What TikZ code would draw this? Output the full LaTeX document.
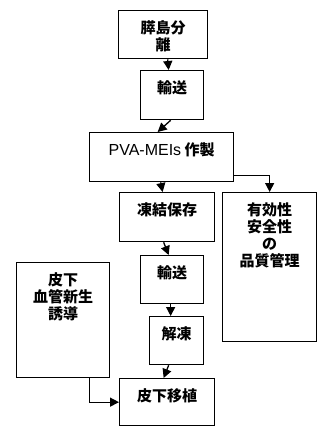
\documentclass[tikz,border=0pt]{standalone}
\usepackage{fontspec}
\setmainfont{Liberation Sans}
\newfontfamily\cjk{Noto Sans CJK JP}
\usetikzlibrary{arrows.meta,calc}
\tikzset{
  box/.style={draw, line width=1.3pt, anchor=north west, inner sep=0pt},
  lbl/.style={anchor=north, align=center, inner sep=0pt, font=\fontsize{15}{17}\selectfont\cjk\bfseries},
  arr/.style={line width=1.3pt, -{Triangle[length=9pt,width=9pt]}},
}
\newcommand\mybox[6]{%
  \node[box, minimum width=#4-#2, minimum height=#5-#3] (#1) at (#2,#3) {};
  \node[lbl] (#1t) at ([yshift=-10pt]#1.north) {#6};
}
\begin{document}
\begin{tikzpicture}[x=1pt,y=-1pt]
\useasboundingbox (0,0) rectangle (320,426);
\mybox{b1}{118}{10}{207}{58}{膵島分\\離}
\mybox{b2}{140}{70}{203}{119}{輸送}
\mybox{b3}{89}{132}{233}{181}{{\fontsize{16}{17}\fontspec{Liberation Sans}\mdseries PVA-MEIs} 作製}
\mybox{b4}{119}{192}{214}{241}{凍結保存}
\mybox{b5}{222}{192}{316}{341}{有効性\\安全性\\の\\品質管理}
\mybox{b6}{140}{255}{203}{303}{輸送}
\mybox{b7}{149}{316}{203}{364}{解凍}
\mybox{b8}{16}{262}{109}{377}{皮下\\血管新生\\誘導}
\mybox{b9}{119}{378}{214}{425}{皮下移植}
\draw[arr] ([xshift=4.5pt]b1.south) -- ([xshift=-3.5pt]b2.north);
\draw[arr] ([xshift=-1.5pt]b2.south) -- ([xshift=-4pt]b3.north);
\draw[arr] ([xshift=-1pt]b3.south) -- ([xshift=-4.5pt]b4.north);
\draw[arr] ([yshift=-18.5pt]b3.east) -| (b5.north);
\draw[arr] ([xshift=-3.5pt]b4.south) -- ([xshift=-3.5pt]b6.north);
\draw[arr] ([xshift=-1.5pt]b6.south) -- ([xshift=-6pt]b7.north);
\draw[arr] ([xshift=-8pt]b7.south) -- ([xshift=-3.5pt]b9.north);
\draw[arr] ([xshift=26.5pt]b8.south) |- (b9.west);
\end{tikzpicture}
\end{document}
